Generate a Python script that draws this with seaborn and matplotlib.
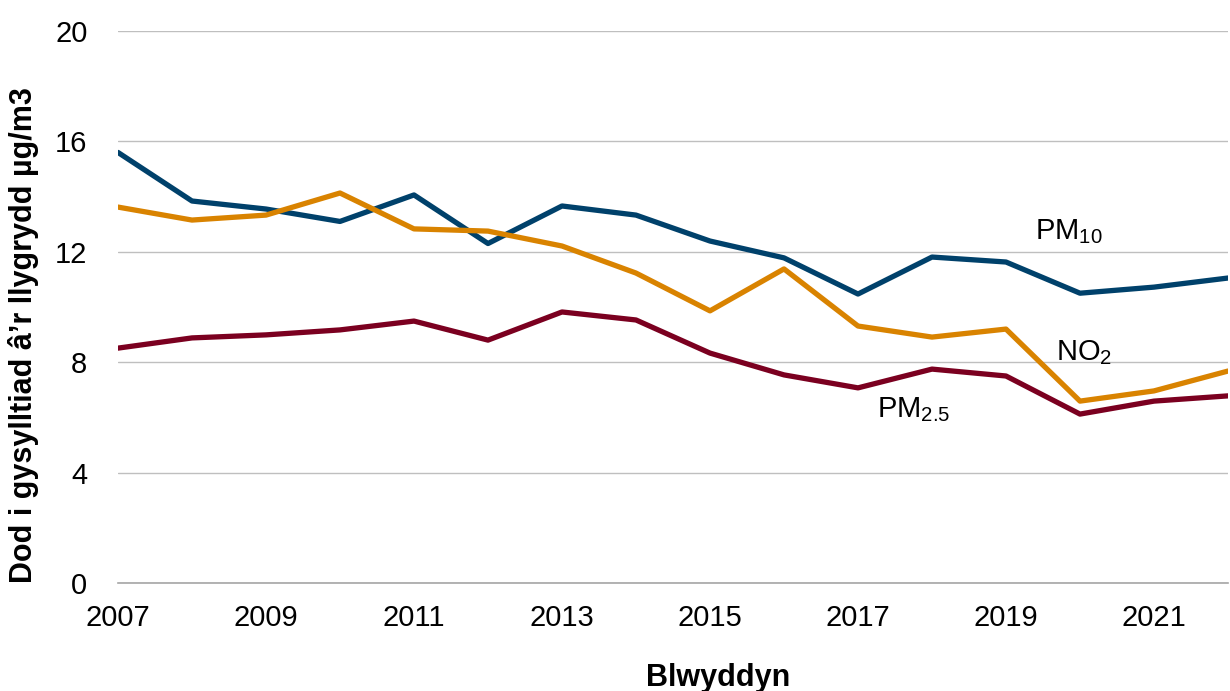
import pandas as pd
import matplotlib
matplotlib.use("Agg")
import matplotlib.pyplot as plt
import seaborn as sns

# data
years = list(range(2007, 2023))
pm10 = [15.6, 13.84, 13.55, 13.1, 14.06, 12.3, 13.66, 13.33, 12.39, 11.78, 10.47, 11.81, 11.63, 10.5, 10.72, 11.05]
no2 = [13.62, 13.15, 13.33, 14.13, 12.83, 12.75, 12.21, 11.23, 9.86, 11.38, 9.31, 8.91, 9.2, 6.59, 6.96, 7.68]
pm25 = [8.51, 8.88, 8.99, 9.17, 9.49, 8.8, 9.82, 9.53, 8.33, 7.54, 7.07, 7.75, 7.5, 6.12, 6.59, 6.78]

series_names = ["PM10", "NO2", "PM2.5"]
series_colors = ["#00416B", "#D98300", "#7B0020"]

df = pd.DataFrame({"year": years, "PM10": pm10, "NO2": no2, "PM2.5": pm25})
df_long = df.melt(id_vars="year", var_name="pollutant", value_name="value")

sns.set_style("white")
plt.rcParams["font.family"] = ["Liberation Sans", "DejaVu Sans"]
plt.rcParams["mathtext.default"] = "regular"
plt.rcParams["text.color"] = "black"
plt.rcParams["axes.labelcolor"] = "black"

fig = plt.figure(figsize=(12.3, 6.91), dpi=100)
ax = fig.add_axes([118 / 1230, 1 - 583 / 691, 1110 / 1230, 552 / 691])

sns.lineplot(data=df_long, x="year", y="value", hue="pollutant",
             hue_order=series_names, palette=series_colors,
             linewidth=3.8, legend=False, ax=ax, zorder=3)

ax.set_xlim(2007, 2022)
ax.set_ylim(0, 20)
ax.set_yticks([0, 4, 8, 12, 16, 20])
ax.set_xticks(range(2007, 2023, 2))
ax.set_xticks(range(2007, 2023), minor=True)

ax.yaxis.grid(True, color="#BFBFBF", linewidth=1)
ax.xaxis.grid(False)
for s in ["top", "right", "left"]:
    ax.spines[s].set_visible(False)
ax.spines["bottom"].set_color("#A6A6A6")
ax.spines["bottom"].set_linewidth(1.2)

ax.tick_params(axis="x", which="both", direction="out", length=8, color="#A6A6A6",
               width=1, labelsize=21, pad=7, labelcolor="black")
ax.tick_params(axis="y", length=0, labelsize=21, pad=22, labelcolor="black")

ax.set_xlabel("Blwyddyn", fontsize=22, fontweight="bold")
ax.set_ylabel("Dod i gysylltiad â’r llygrydd µg/m3", fontsize=22, fontweight="bold")
ax.xaxis.set_label_coords(0.541, -0.145)
ax.yaxis.set_label_coords(-0.071, 0.449)

ax.text(2019.85, 12.75, "PM$_{10}$", fontsize=21, ha="center", va="center")
ax.text(2020.05, 8.35, "NO$_{2}$", fontsize=21, ha="center", va="center")
ax.text(2017.75, 6.3, "PM$_{2.5}$", fontsize=21, ha="center", va="center")

fig.savefig("out.png", dpi=100)
